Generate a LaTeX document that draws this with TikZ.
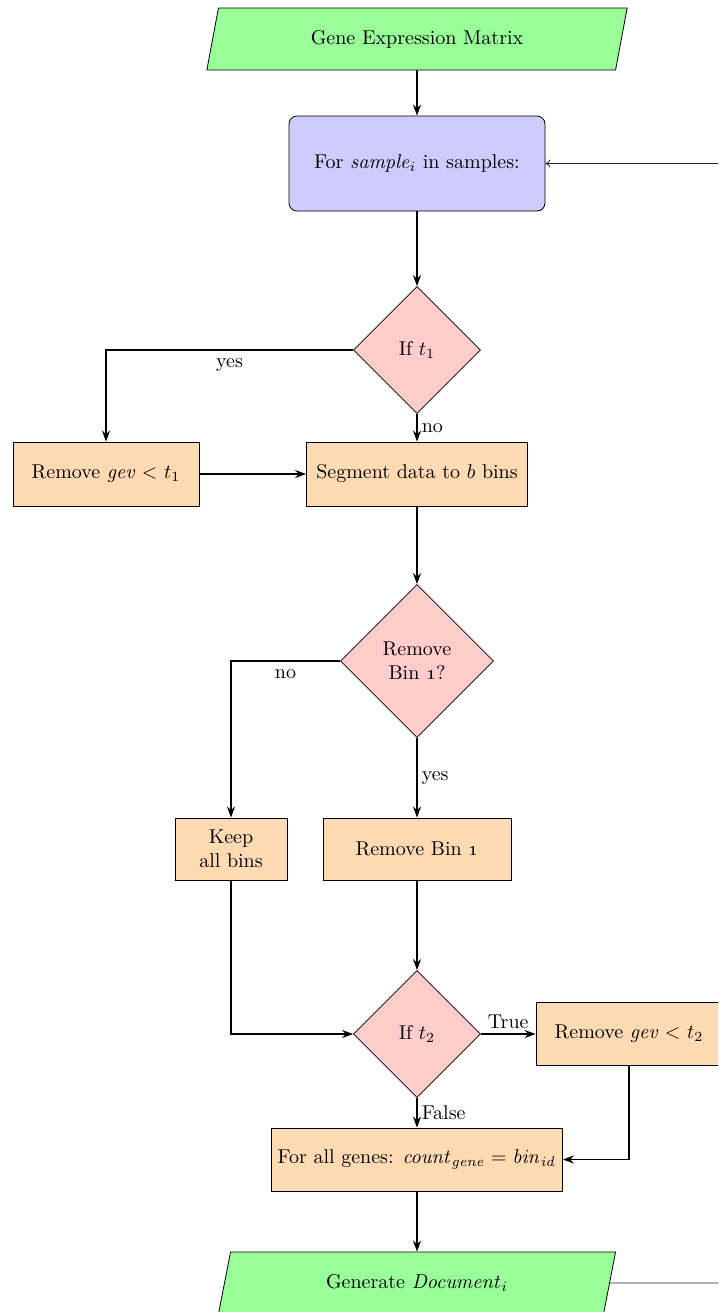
\documentclass[tikz,border=0pt]{standalone}
\usetikzlibrary{shapes.geometric,arrows.meta,calc}
\definecolor{iofill}{RGB}{153,255,153}
\definecolor{loopfill}{RGB}{204,204,255}
\definecolor{decfill}{RGB}{255,204,204}
\definecolor{procfill}{RGB}{255,218,179}
\begin{document}
\begin{tikzpicture}[x=0.5pt,y=-0.5pt,
  iobox/.style={trapezium, trapezium left angle=71, trapezium right angle=109,
    trapezium stretches=true, draw, thin, fill=iofill, inner sep=0pt,
    minimum width=210.5pt, minimum height=31pt},
  loopbox/.style={draw, thin, fill=loopfill, rounded corners=4pt,
    minimum width=128pt, minimum height=47.5pt},
  decbox/.style={diamond, aspect=1, draw, thin, fill=decfill, inner sep=0pt, align=center},
  procbox/.style={draw, thin, fill=procfill, inner sep=2pt, align=center, minimum height=32pt},
  flow/.style={thick, -{Stealth[length=5.5pt,width=4pt]}},
  backline/.style={thin, black!85, -{To[length=2.5pt,width=4pt]}},
  lbl/.style={inner sep=2pt}]
\useasboundingbox (0,0) rectangle (718,1312);
\clip (0,0) rectangle (718,1312);

% nodes, all on the main column x = 417
\node[iobox] (gem) at (417,39) {Gene Expression Matrix};
\node[loopbox] (forbox) at (417,163.5) {For \textit{sample}$_i$ in samples:};
\node[decbox, minimum size=63.5pt] (d1) at (417,350) {If $t_1$};
\node[procbox, minimum width=93pt] (rem1) at (106,474) {Remove \textit{gev} $<$ $t_1$};
\node[procbox, minimum width=110.5pt] (seg) at (417,474) {Segment data to $b$ bins};
\node[decbox, minimum size=76.5pt] (d2) at (417,661) {Remove\\Bin \oldstylenums{1}?};
\node[procbox, minimum width=56pt, minimum height=31pt, inner sep=1pt] (keep) at (231,849) {Keep\\all bins};
\node[procbox, minimum width=94pt, minimum height=31pt] (rem0) at (417,849) {Remove Bin \oldstylenums{1}};
\node[decbox, minimum size=63.5pt] (d3) at (417,1034) {If $t_2$};
\node[procbox, minimum width=93pt, minimum height=31.5pt] (rem2) at (629,1034) {Remove \textit{gev} $<$ $t_2$};
\node[procbox, minimum width=145.5pt, minimum height=31.5pt] (count) at (417,1159.5)
  {For all genes: $\mathit{count}_{\mathit{gene}} = \mathit{bin}_{\mathit{id}}$};
\node[iobox, minimum width=199pt] (doc) at (417,1283) {Generate $\mathit{Document}_i$};
\coordinate (ret) at (760,1283);

% connectors
\draw[flow] (gem.south) -- (forbox.north);
\draw[flow] (forbox.south) -- (d1.north);
\draw[flow] (d1.west) -| node[lbl, pos=0.25, below, inner sep=4pt] {yes} (rem1.north);
\draw[flow] (d1.south) -- node[lbl, right] {no} (seg.north);
\draw[flow] (rem1.east) -- (seg.west);
\draw[flow] (seg.south) -- (d2.north);
\draw[flow] (d2.west) -| node[lbl, pos=0.25, below, inner sep=4pt] {no} (keep.north);
\draw[flow] (d2.south) -- node[lbl, right] {yes} (rem0.north);
\draw[flow] (keep.south) |- (d3.west);
\draw[flow] (rem0.south) -- (d3.north);
\draw[flow] (d3.east) -- node[lbl, above] {True} (rem2.west);
\draw[flow] (d3.south) -- node[lbl, right] {False} (count.north);
\draw[flow] (rem2.south) |- (count.east);
\draw[flow] (count.south) -- (doc.north);
\draw[backline] (doc.east) -- (ret) |- (forbox.east);
\end{tikzpicture}
\end{document}
